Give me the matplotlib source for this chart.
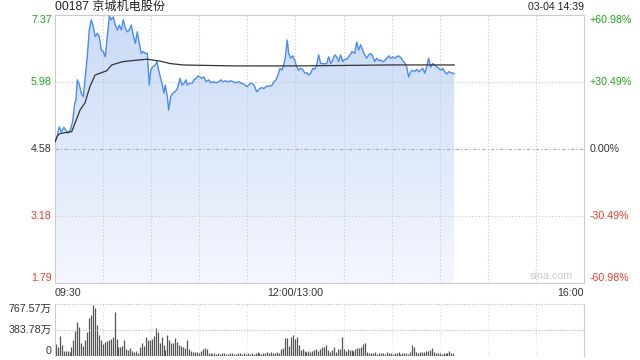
import numpy as np
import matplotlib
matplotlib.use('Agg')
import matplotlib.pyplot as plt
from matplotlib.colors import LinearSegmentedColormap
import matplotlib.transforms as mtrans

plt.rcParams['font.family'] = ['Liberation Sans', 'Noto Sans CJK SC', 'DejaVu Sans']

# Chart data: minutes since 09:30 (lunch break removed), price in HKD
title = '00187 京城机电股份'
stamp = '03-04 14:39'
price_min = [0, 1.2, 2.7, 3.9, 5.6, 6.9, 8.1, 9.5, 11.0, 12.3, 13.1, 13.9, 15.2, 16.4, 17.7,
             18.9, 20.1, 21.4, 22.6, 23.9, 25.1, 26.4, 27.6, 28.9, 30.1, 31.4, 32.6, 33.9,
             35.1, 36.4, 37.6, 38.9, 40.1, 41.4, 42.6, 43.9, 45.1, 46.3, 47.6, 48.8, 50.1,
             51.3, 52.6, 53.8, 55.1, 56.3, 57.6, 58.8, 59.7, 60.9, 62.6, 63.6, 65.1, 66.7,
             68.0, 68.8, 70.1, 70.9, 72.2, 73.4, 74.7, 75.9, 76.7, 78.0, 79.2, 80.5, 81.7,
             82.5, 83.8, 85.5, 86.7, 88.0, 89.2, 90.5, 91.7, 92.9, 94.2, 95.9, 97.1, 98.7,
             100.4, 102.1, 103.4, 104.6, 106.2, 107.9, 109.6, 111.2, 112.9, 114.6, 116.2,
             117.9, 119.6, 120.8, 122.1, 123.7, 124.6, 125.8, 127.1, 128.7, 130.4, 132.1,
             133.7, 135.4, 136.6, 137.9, 139.1, 140.4, 141.6, 142.9, 143.7, 144.9, 145.8,
             147.0, 148.3, 149.5, 150.8, 152.0, 153.3, 154.5, 155.8, 157.0, 158.3, 159.5,
             160.8, 162.0, 163.2, 164.5, 165.7, 167.0, 168.2, 169.5, 170.7, 172.0, 173.2,
             174.5, 175.7, 177.0, 178.2, 179.5, 180.7, 182.0, 183.2, 184.5, 185.3, 187.0,
             188.2, 189.4, 190.7, 191.9, 193.2, 194.4, 195.7, 196.9, 198.2, 199.4, 200.7,
             201.9, 203.2, 204.4, 205.7, 206.9, 208.2, 209.4, 210.7, 211.9, 213.2, 214.4,
             215.6, 216.9, 218.1, 219.4, 220.6, 221.9, 223.1, 224.4, 225.6, 226.9, 228.1,
             229.4, 230.6, 231.9, 233.1, 234.4, 235.6, 236.9, 238.1, 239.4, 240.6, 241.9,
             243.1, 244.4, 245.6, 246.9, 248.1, 249.0]
price = [4.73, 4.83, 5.04, 4.94, 5.03, 4.96, 4.91, 4.97, 5.15, 5.53, 5.60, 6.02, 5.91, 5.74, 5.67,
         6.08, 6.50, 7.06, 7.27, 7.13, 6.92, 6.99, 6.92, 6.64, 6.61, 6.50, 6.92, 7.35,
         7.27, 7.33, 7.16, 7.06, 7.16, 7.06, 7.27, 7.09, 7.02, 7.06, 7.16, 6.95, 6.78,
         7.02, 6.78, 6.57, 6.61, 6.57, 6.57, 5.91, 6.22, 6.29, 6.33, 6.40, 6.16, 5.95,
         5.74, 5.91, 5.67, 5.39, 5.67, 5.74, 5.77, 5.81, 5.88, 6.05, 5.91, 5.95, 6.02,
         5.91, 5.95, 5.95, 6.02, 6.05, 6.10, 6.08, 6.05, 6.08, 5.98, 6.02, 5.96, 5.98,
         5.96, 5.98, 6.02, 5.98, 6.00, 5.98, 6.00, 5.98, 5.96, 5.98, 5.95,
         5.93, 5.88, 5.91, 5.95, 5.93, 5.88, 5.77, 5.82, 5.86, 5.84, 5.89,
         5.89, 5.91, 5.98, 6.02, 6.12, 6.26, 6.22, 6.36, 6.50, 6.85, 6.57,
         6.47, 6.52, 6.43, 6.29, 6.22, 6.26, 6.24, 6.16, 6.17, 6.12, 6.16,
         6.26, 6.24, 6.33, 6.54, 6.36, 6.36, 6.35, 6.36, 6.50, 6.36, 6.43,
         6.54, 6.50, 6.40, 6.54, 6.40, 6.45, 6.45, 6.50, 6.56, 6.61, 6.57,
         6.81, 6.64, 6.75, 6.64, 6.54, 6.47, 6.54, 6.57, 6.52, 6.40, 6.47,
         6.42, 6.43, 6.40, 6.42, 6.47, 6.52, 6.47, 6.50, 6.47, 6.50, 6.52,
         6.49, 6.42, 6.38, 6.29, 6.08, 6.19, 6.22, 6.19, 6.24, 6.19, 6.22,
         6.26, 6.16, 6.29, 6.47, 6.28, 6.36, 6.33, 6.29, 6.26, 6.22, 6.26,
         6.19, 6.14, 6.19, 6.17, 6.16, 6.15]

avg_min = [0, 1.5, 3, 6.2, 10.4, 12.5, 15.6, 18.7, 21.8, 25, 32.3, 35.4, 42.4, 57.2,
           65.5, 71.7, 79.8, 111, 152.8, 209, 249]
avg_price = [4.73, 4.85, 4.90, 4.92, 4.94, 5.12, 5.39, 5.54, 5.88, 6.12, 6.21, 6.33, 6.40, 6.45,
             6.41, 6.36, 6.33, 6.31, 6.31, 6.33, 6.33]

volume = [178, 129, 297, 163, 79, 79, 79, 64, 129, 238, 376, 495, 435, 198, 149, 238, 361, 560,
          609, 757, 708, 460, 312, 238, 178, 213, 227, 238, 248, 287, 643, 248, 129, 139, 149,
          238, 99, 89, 114, 79, 64, 79, 50, 129, 188, 149, 287, 238, 238, 248, 297, 411, 361,
          198, 277, 163, 89, 312, 238, 198, 188, 262, 213, 163, 149, 129, 114, 238, 99, 79,
          64, 64, 64, 50, 79, 99, 114, 99, 50,
          40, 30, 45, 35, 50, 30, 40, 45, 35, 30, 50, 40, 35, 30, 45, 40, 30, 50, 35, 40, 30,
          45, 35, 40, 60, 45, 35, 50, 40, 55, 45, 60, 50, 45, 55, 40,
          99, 114, 262, 262, 149, 277, 312, 248, 287, 163, 89, 99, 79, 64, 79, 64, 79, 89, 99,
          79, 99, 129, 139,
          163, 89, 64, 89, 139, 64, 99, 99, 277, 99, 79, 99, 89, 89, 79, 99, 114, 114, 129,
          178, 198, 64, 50,
          45, 40, 55, 35, 50, 40, 45, 35, 60, 40, 50, 35, 45, 40, 55, 35, 45, 50, 40, 35, 60,
          163, 129, 64, 50, 64, 64, 64, 79, 79, 89, 114, 64, 50, 40, 45, 35, 50, 40, 45, 79,
          40, 45]

price_ticks = [7.37, 5.98, 4.58, 3.18, 1.79]
pct_labels = ['+60.98%', '+30.49%', '0.00%', '-30.49%', '-60.98%']
tick_colors = ['#1ea51e', '#1ea51e', '#333333', '#f03c28', '#f03c28']
vol_ticks = [767.57, 383.78, 0]
vol_labels = ['767.57万', '383.78万', '0']
time_labels = ['09:30', '12:00/13:00', '16:00']
time_pos = [0, 150, 330]

fig = plt.figure(figsize=(6.4, 3.6), dpi=100)
ax = fig.add_axes([55 / 640, 1 - 283 / 360, 529 / 640, 268 / 360])
axv = fig.add_axes([55 / 640, 1 - 356 / 360, 529 / 640, 52 / 360])

# grid, drawn over the fill like the original
for m in range(30, 330, 30):
    ax.axvline(m, color='#c8c8c8', lw=0.8, ls=(0, (1, 2)), zorder=2)
    axv.axvline(m, color='#dddddd', lw=0.8, ls=(0, (1, 2)), zorder=0)
for p in [5.98, 3.18]:
    ax.axhline(p, color='#c8c8c8', lw=0.8, ls=(0, (1, 2)), zorder=2)
ax.axhline(4.58, color='#aaaaaa', lw=0.8, ls=(0, (3, 2, 1, 2)), zorder=2)

# gradient fill under the price line
fill = ax.fill_between(price_min, price, 1.79, color='none', lw=0)
cmap = LinearSegmentedColormap.from_list('f', ['#f4f7fe', '#c9dbf7'])
grad = ax.imshow(np.linspace(0, 1, 256).reshape(-1, 1), extent=[0, 249, 1.79, 7.37],
                 origin='lower', aspect='auto', cmap=cmap, zorder=1)
grad.set_clip_path(fill.get_paths()[0], transform=ax.transData)

ax.plot(price_min, price, color='#4a8cf0', lw=1.0, zorder=3)
ax.plot(avg_min, avg_price, color='#333333', lw=0.9, zorder=4)

ax.set_xlim(0, 330)
ax.set_ylim(1.79, 7.37)
ax.set_xticks([])
ax.set_yticks([])
for s in ax.spines.values():
    s.set_color('#cccccc')

fs = 7.7
trans = mtrans.blended_transform_factory(ax.transAxes, ax.transData)
for i, (p, lab, c) in enumerate(zip(price_ticks, pct_labels, tick_colors)):
    va = 'top' if i == 0 else ('bottom' if i == len(price_ticks) - 1 else 'center')
    ax.text(-0.006, p, f'{p:.2f}', color=c, fontsize=fs, ha='right', va=va, transform=trans)
    ax.text(1.011, p, lab, color=c, fontsize=fs, ha='left', va=va, transform=trans)

fig.text(55 / 640, 1 - 7 / 360, title, fontsize=8.7, color='#222222', ha='left', va='center')
fig.text(584 / 640, 1 - 7 / 360, stamp, fontsize=7.6, color='#222222', ha='right', va='center')
ax.text(0.978, 0.008, 'sina.com', fontsize=7.7, color='#cccccc', ha='right', va='bottom',
        transform=ax.transAxes)

for pos, lab in zip(time_pos, time_labels):
    ha = 'left' if pos == 0 else ('right' if pos == 330 else 'center')
    ax.text(pos, -0.02, lab, fontsize=fs, color='#333333', ha=ha, va='top',
            transform=mtrans.blended_transform_factory(ax.transData, ax.transAxes))

# volume bars
vol_min = np.linspace(0.5, 248.5, len(volume))
axv.vlines(vol_min, 0, volume, color='#555555', lw=0.9, zorder=2)
axv.set_xlim(0, 330)
axv.set_ylim(0, 767.57)
axv.set_xticks([])
axv.set_yticks([])
axv.axhline(767.57, color='#bbbbbb', lw=0.8, ls=(0, (1, 1.5)), clip_on=False)
axv.axhline(383.78, color='#bbbbbb', lw=0.8, ls=(0, (1, 1.5)))
for k in ['top', 'bottom']:
    axv.spines[k].set_visible(False)
for k in ['left', 'right']:
    axv.spines[k].set_color('#cccccc')

vtrans = mtrans.blended_transform_factory(axv.transAxes, axv.transData)
for v, lab in zip(vol_ticks, vol_labels):
    va = 'top' if v == vol_ticks[0] else ('bottom' if v == 0 else 'center')
    axv.text(-0.006, v, lab, fontsize=fs, color='#333333', ha='right', va=va, transform=vtrans)

fig.savefig('out.png', dpi=100)
